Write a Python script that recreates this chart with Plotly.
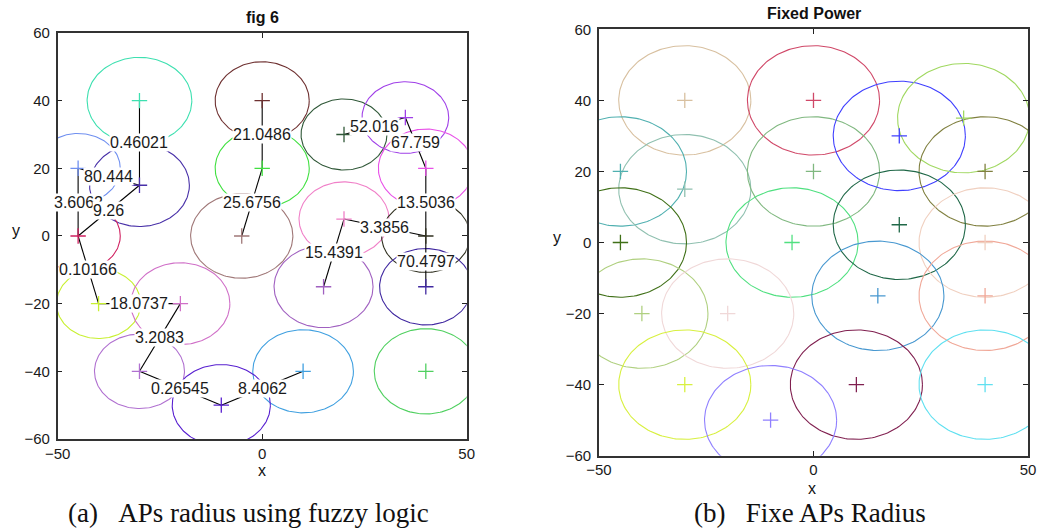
import numpy as np
import plotly.graph_objects as go

# ---------------- data ----------------
ap_x = [-30, 0, -45, -30, -45, 0, -5, 20, 35, 40, 20, 40, 15, 40, 10, 40, -40, -20, -30, -10]
ap_y = [40, 40, 20, 15, 0, 20, 0, 30, 35, 20, 5, 0, -15, -15, -40, -40, -20, -20, -40, -50]

# radii found by the fuzzy-logic scheme (panel a)
fuzzy_radius = [12.8, 11.5, 10.3, 12.2, 10.3, 11.5, 12.5, 10.5, 10.6, 11.6,
                11.0, 10.8, 12.1, 11.3, 12.3, 12.6, 10.3, 12.1, 11.0, 12.0]
# fixed radius (panel b)
fixed_radius = 15.4

# links between APs (panel a) and their labels
edge_from = [0, 2, 2, 4, 4, 16, 17, 18, 19, 1, 5, 7, 8, 9, 10, 11, 10]
edge_to = [3, 3, 4, 3, 16, 17, 18, 19, 14, 5, 6, 8, 9, 11, 11, 13, 12]
edge_labels = ["0.46021", "80.444", "3.6062", "9.26", "0.10166", "18.0737", "3.2083",
               "0.26545", "8.4062", "21.0486", "25.6756", "52.016", "67.759",
               "13.5036", "3.3856", "70.4797", "15.4391"]

x_ticks = [-50, 0, 50]
y_ticks = [-60, -40, -20, 0, 20, 40, 60]

# ---------------- styles ----------------
fuzzy_colors = ["#3ee0b0", "#6e3030", "#7090f0", "#4830a8", "#d02060", "#40e040",
                "#a07878", "#305838", "#a040e8", "#e850e8", "#f080c8", "#303020",
                "#a060c0", "#4028a0", "#40a0e0", "#50d060", "#c8f030", "#d070c8",
                "#b070d0", "#5820d0"]
fixed_colors = ["#d8c0a0", "#d04868", "#50b0b0", "#90c0b0", "#407018", "#80b880",
                "#50e080", "#4040ff", "#a0d860", "#808040", "#206848", "#f0d0c0",
                "#4898d0", "#f0a898", "#802050", "#60e0f0", "#b0d080", "#f0d8d8",
                "#d8f040", "#9080ff"]

theta = np.linspace(0, 2 * np.pi, 181)

fig = go.Figure()

def add_circles(radii, colors, xa, ya):
    for cx, cy, r, c in zip(ap_x, ap_y, radii, colors):
        fig.add_trace(go.Scatter(
            x=cx + r * np.cos(theta), y=cy + r * np.sin(theta),
            mode="lines", line=dict(color=c, width=1.1),
            xaxis=xa, yaxis=ya, hoverinfo="skip", showlegend=False))

def add_markers(colors, xa, ya):
    fig.add_trace(go.Scatter(
        x=ap_x, y=ap_y, mode="markers",
        marker=dict(symbol="cross-thin", size=11, line=dict(color=colors, width=1.3)),
        xaxis=xa, yaxis=ya, hoverinfo="skip", showlegend=False))

# panel a
add_circles(fuzzy_radius, fuzzy_colors, "x", "y")
for a, b in zip(edge_from, edge_to):
    fig.add_trace(go.Scatter(
        x=[ap_x[a], ap_x[b]], y=[ap_y[a], ap_y[b]], mode="lines",
        line=dict(color="black", width=1.1), xaxis="x", yaxis="y",
        hoverinfo="skip", showlegend=False))
add_markers(fuzzy_colors, "x", "y")

# panel b
add_circles([fixed_radius] * len(ap_x), fixed_colors, "x2", "y2")
add_markers(fixed_colors, "x2", "y2")

annotations = []
for a, b, t in zip(edge_from, edge_to, edge_labels):
    annotations.append(dict(
        x=(ap_x[a] + ap_x[b]) / 2, y=(ap_y[a] + ap_y[b]) / 2, xref="x", yref="y",
        text=t, showarrow=False, bgcolor="white", borderpad=0,
        font=dict(family="Liberation Sans, Arial", size=16, color="#1a1a1a")))

def paper_text(x, y, text, size, family="Liberation Sans, Arial", bold=False):
    if bold:
        text = "<b>" + text + "</b>"
    annotations.append(dict(x=x / 1039, y=1 - y / 531, xref="paper", yref="paper",
                            text=text, showarrow=False, xanchor="center", yanchor="middle",
                            font=dict(family=family, size=size, color="#111")))

paper_text(262, 17, "fig 6", 16, bold=True)
paper_text(814, 13, "Fixed Power", 16, bold=True)
paper_text(262, 470, "x", 16)
paper_text(16, 230, "y", 16)
paper_text(812, 488, "x", 16)
paper_text(557, 237, "y", 16)
paper_text(248, 513, "(a)&nbsp;&nbsp;&nbsp;APs radius using fuzzy logic", 27,
           family="Liberation Serif, Times New Roman")
paper_text(810, 513, "(b)&nbsp;&nbsp;&nbsp;Fixe APs Radius", 27,
           family="Liberation Serif, Times New Roman")

axis_common = dict(showline=True, linecolor="#333", linewidth=1.5, mirror="ticks",
                   ticks="inside", ticklen=5, tickcolor="#222", showgrid=False,
                   zeroline=False, automargin=False,
                   tickfont=dict(family="Liberation Sans, Arial", size=15, color="#1a1a1a"))

fig.update_layout(
    width=1039, height=531, margin=dict(l=0, r=0, t=0, b=0, autoexpand=False),
    paper_bgcolor="white", plot_bgcolor="white",
    xaxis=dict(domain=[0.0555, 0.4492], range=[-50, 50], tickvals=x_ticks,
               anchor="y", ticklabelstandoff=0, **axis_common),
    yaxis=dict(domain=[0.1733, 0.9379], range=[-60, 60], tickvals=y_ticks,
               anchor="x", ticklabelstandoff=3, **axis_common),
    xaxis2=dict(domain=[0.5765, 0.9894], range=[-50, 50], tickvals=x_ticks,
                anchor="y2", ticklabelstandoff=0, **axis_common),
    yaxis2=dict(domain=[0.1418, 0.9448], range=[-60, 60], tickvals=y_ticks,
                anchor="x2", ticklabelstandoff=3, **axis_common),
    annotations=annotations,
    showlegend=False,
)

fig.write_html("out.html", config={"displayModeBar": False},
               post_script="document.body.style.margin='0';document.body.style.overflow='hidden';")
